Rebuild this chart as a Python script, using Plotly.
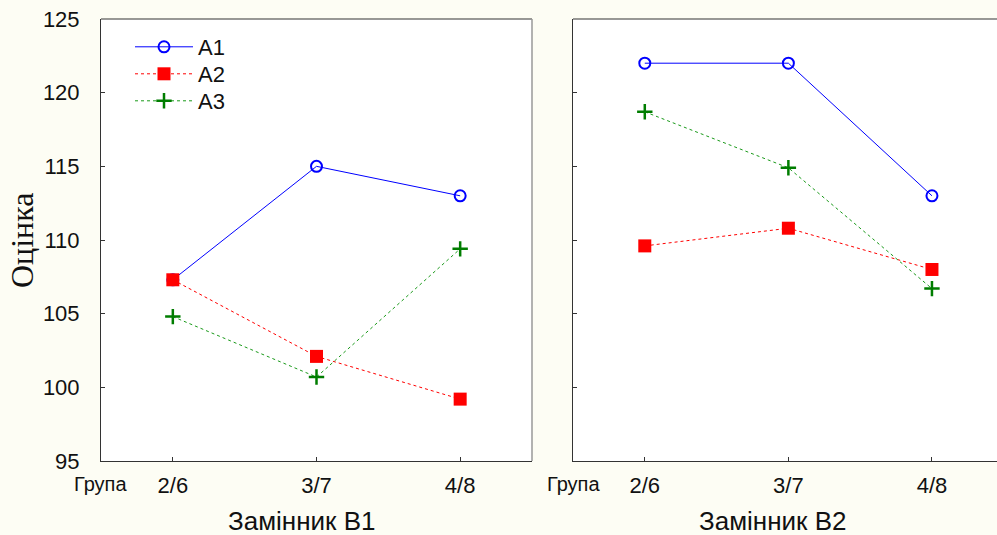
import plotly.graph_objects as go

groups = ["2/6", "3/7", "4/8"]
xpos = [0, 1, 2]
series = ["A1", "A2", "A3"]

# Замінник B1
b1_a1 = [107.3, 115.0, 113.0]
b1_a2 = [107.3, 102.1, 99.2]
b1_a3 = [104.8, 100.7, 109.4]
# Замінник B2
b2_a1 = [122.0, 122.0, 113.0]
b2_a2 = [109.6, 110.8, 108.0]
b2_a3 = [118.7, 114.9, 106.7]

yticks = [95, 100, 105, 110, 115, 120, 125]

W, H = 997, 535
L, R, T, B = 101, 0, 19, 74
pw = W - L - R
ph = H - T - B

def px(x):
    return (x - L) / pw

def py(y):
    return (H - B - y) / ph

styles = {
    "A1": dict(line=dict(color="#0000ff", width=1, dash="solid"),
               marker=dict(symbol="circle-open", size=11, color="#0000ff", line=dict(width=2, color="#0000ff"))),
    "A2": dict(line=dict(color="#ff0000", width=1, dash="3px,3px"),
               marker=dict(symbol="square", size=13, color="#ff0000")),
    "A3": dict(line=dict(color="#1a9a1a", width=1, dash="dot"),
               marker=dict(symbol="cross-thin", size=11, color="#007d00", line=dict(width=2.5, color="#007d00"))),
}
legend_ids = {"A1": "legend", "A2": "legend2", "A3": "legend3"}
legend_rows = {"A1": 47, "A2": 74, "A3": 101}

fig = go.Figure()
for name, ys in zip(series, [b1_a1, b1_a2, b1_a3]):
    fig.add_trace(go.Scatter(x=xpos, y=ys, mode="lines+markers", name=name,
                             xaxis="x", yaxis="y", showlegend=True,
                             legend=legend_ids[name], **styles[name]))
for name, ys in zip(series, [b2_a1, b2_a2, b2_a3]):
    fig.add_trace(go.Scatter(x=xpos, y=ys, mode="lines+markers", name=name,
                             xaxis="x2", yaxis="y2", showlegend=False, **styles[name]))

font_sans = "Liberation Sans, Arial, sans-serif"

left_dom = [0, px(532)]
right_dom = [px(573), 1]
spacing = 143.5
right_max = (W - 645) / spacing

axis_common = dict(showgrid=False, zeroline=False, showline=True, linecolor="#333333",
                   linewidth=1, ticks="inside", ticklen=4, tickcolor="#333333",
                   tickfont=dict(family=font_sans, size=22, color="#111111"))

legend_common = dict(xanchor="left", yanchor="middle", bgcolor="rgba(0,0,0,0)",
                     font=dict(family=font_sans, size=22, color="#111111"), itemwidth=58)

fig.update_layout(
    width=W, height=H,
    margin=dict(l=L, r=R, t=T, b=B),
    paper_bgcolor="#fdfdf4",
    plot_bgcolor="#ffffff",
    font=dict(family=font_sans, color="#111111"),
    xaxis=dict(domain=left_dom, range=[-0.5, 2.5], tickvals=xpos, ticktext=groups,
               ticklabelstandoff=5, anchor="y", **axis_common),
    yaxis=dict(domain=[0, 1], range=[95, 125], tickvals=yticks, anchor="x",
               ticklabelstandoff=16, **axis_common),
    xaxis2=dict(domain=right_dom, range=[-0.5, right_max], tickvals=xpos, ticktext=groups,
                ticklabelstandoff=5, anchor="y2", **axis_common),
    yaxis2=dict(domain=[0, 1], range=[95, 125], tickvals=yticks, showticklabels=False,
                anchor="x2", **axis_common),
    legend=dict(x=px(130), y=py(legend_rows["A1"]), **legend_common),
    legend2=dict(x=px(130), y=py(legend_rows["A2"]), **legend_common),
    legend3=dict(x=px(130), y=py(legend_rows["A3"]), **legend_common),
    showlegend=True,
)

# top borders and right border of left panel
fig.add_shape(type="line", xref="paper", yref="paper", x0=left_dom[0], x1=left_dom[1], y0=1, y1=1,
              line=dict(color="#333333", width=1))
fig.add_shape(type="line", xref="paper", yref="paper", x0=right_dom[0], x1=1, y0=1, y1=1,
              line=dict(color="#333333", width=1))
fig.add_shape(type="line", xref="paper", yref="paper", x0=left_dom[1], x1=left_dom[1], y0=0, y1=1,
              line=dict(color="#999999", width=1.5))

ann = []
ann.append(dict(text="Група", x=px(100), y=py(484), xref="paper", yref="paper",
                showarrow=False, xanchor="center", yanchor="middle",
                font=dict(family=font_sans, size=20, color="#111111")))
ann.append(dict(text="Група", x=px(573), y=py(484), xref="paper", yref="paper",
                showarrow=False, xanchor="center", yanchor="middle",
                font=dict(family=font_sans, size=20, color="#111111")))
ann.append(dict(text="Замінник B1", x=px(301), y=py(521), xref="paper", yref="paper",
                showarrow=False, xanchor="center", yanchor="middle",
                font=dict(family=font_sans, size=26, color="#111111")))
ann.append(dict(text="Замінник B2", x=px(772), y=py(521), xref="paper", yref="paper",
                showarrow=False, xanchor="center", yanchor="middle",
                font=dict(family=font_sans, size=26, color="#111111")))
ann.append(dict(text="Оцінка", x=px(22), y=py(240), xref="paper", yref="paper",
                showarrow=False, xanchor="center", yanchor="middle", textangle=-90,
                font=dict(family="Liberation Serif, Times New Roman, serif", size=32, color="#111111")))
fig.update_layout(annotations=ann)

fig.write_html("out.html", config={"displayModeBar": False},
               post_script="document.body.style.margin='0';document.body.style.padding='0';document.body.style.overflow='hidden';")
